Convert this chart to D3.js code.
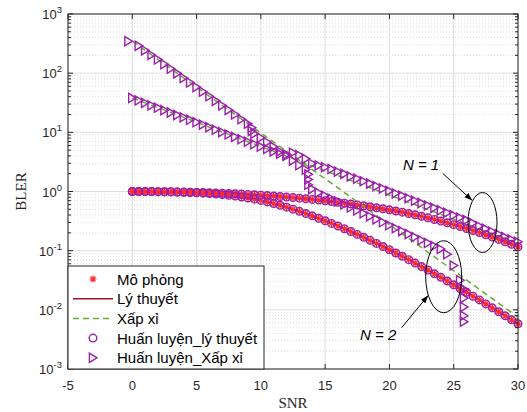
<!DOCTYPE html>
<html>
<head>
<meta charset="utf-8">
<script src="https://cdn.jsdelivr.net/npm/d3@7"></script>
<style>
  body { margin: 0; background: #fff; }
  svg { font-family: "Liberation Sans", Arial, sans-serif; }
</style>
</head>
<body>
<div id="chart"></div>
<script>
// ---- data ----
const snr = [0,0.5,1,1.5,2,2.5,3,3.5,4,4.5,5,5.5,6,6.5,7,7.5,8,8.5,9,9.5,10,10.5,11,11.5,12,12.5,13,13.5,14,14.5,
  15,15.5,16,16.5,17,17.5,18,18.5,19,19.5,20,20.5,21,21.5,22,22.5,23,23.5,24,24.5,25,25.5,26,26.5,27,27.5,28,28.5,29,29.5,30];

const theoryN1 = [1.000,0.9995,0.998,0.996,0.993,0.990,0.986,0.982,0.977,0.972,0.966,0.960,0.953,0.945,0.936,0.926,0.916,0.905,0.893,0.880,
  0.867,0.853,0.838,0.822,0.805,0.788,0.771,0.753,0.735,0.716,0.697,0.677,0.656,0.636,0.615,0.594,0.573,0.552,0.530,0.510,
  0.490,0.468,0.447,0.424,0.403,0.380,0.359,0.337,0.316,0.295,0.275,0.256,0.237,0.219,0.202,0.185,0.170,0.155,0.141,0.128,0.116];

const theoryN2 = [1.000,0.9988,0.9977,0.9954,0.9931,0.9886,0.9840,0.9772,0.9705,0.9616,0.9506,0.9376,0.9226,0.9036,0.8851,0.8610,0.8375,0.8072,0.7780,0.7430,
  0.7063,0.6668,0.6266,0.5848,0.5433,0.5023,0.4624,0.4236,0.3873,0.3524,0.3199,0.2891,0.2612,0.2350,0.2109,0.1884,0.1683,0.1496,0.1327,0.1175,
  0.1038,0.0914,0.0804,0.0705,0.0617,0.0538,0.0469,0.0407,0.0354,0.0307,0.0265,0.0229,0.0198,0.0170,0.0147,0.0126,0.0108,0.00927,0.00794,0.00679,0.00581];

const approxN1 = [38.0,34.6,31.5,28.6,26.1,23.7,21.6,19.6,17.9,16.3,14.8,13.5,12.2,11.1,10.1,9.23,8.39,7.64,6.95,6.32,
  5.75,5.24,4.76,4.34,3.94,3.59,3.27,2.97,2.70,2.46,2.24,2.04,1.85,1.69,1.53,1.40,1.27,1.16,1.05,0.957,
  0.871,0.792,0.721,0.656,0.597,0.543,0.494,0.450,0.409,0.372,0.339,0.308,0.281,0.255,0.232,0.211,0.192,0.175,0.159,0.145,0.132];

const approxN2 = [347,290,243,203,170,142,119,99.4,83.2,69.6,58.2,48.7,40.7,34.1,28.5,23.9,20.0,16.7,14.0,11.7,
  9.77,8.18,6.84,5.72,4.79,4.00,3.35,2.80,2.34,1.96,1.64,1.37,1.15,0.960,0.804,0.672,0.562,0.470,0.394,0.329,
  0.275,0.230,0.193,0.161,0.135,0.113,0.0940,0.0785,0.0656,0.0548,0.0457,0.0382,0.0319,0.0266,0.0222,0.0185,0.0155,0.0129,0.0108,0.00899,0.00750];

// trained network output (approximation model), N = 1 on the same SNR grid
const trainedN1 = [38.0,34.6,31.5,28.6,26.1,23.7,21.6,19.6,17.9,16.3,14.8,13.5,12.2,11.1,10.1,9.23,8.39,7.64,6.95,6.32,
  5.75,5.24,4.76,4.34,4.22,4.52,4.12,3.57,2.96,2.76,2.57,2.40,2.17,1.99,1.80,1.645,1.49,1.363,1.234,1.124,
  1.023,0.931,0.847,0.771,0.701,0.638,0.580,0.529,0.481,0.437,0.398,0.362,0.330,0.293,0.260,0.234,0.210,0.190,0.170,0.155,0.1415];

// trained network output, N = 2 (has its own SNR points, with vertical jumps)
const trainedN2Snr = [-0.3,0.5,1,1.5,2,2.5,3,3.5,4,4.5,5,5.5,6,6.5,7,7.5,8,8.5,9,9.3,9.3,9.5,10,10.5,11,11.5,12,12.5,13,13.5,
  13.7,13.7,13.7,14,14.5,15,15.5,16,16.5,17,17.5,18,18.5,19,19.5,20,20.5,21,21.5,22,22.5,23,23.5,24,24.5,25,25.5,
  25.8,25.8,25.8,25.8,25.8];
const trainedN2 = [347,290,243,203,170,142,119,99.4,83.2,69.6,58.2,48.7,40.7,34.1,28.5,23.9,20.0,16.7,14.0,12.0,10.5,9.5,8.13,6.81,5.69,4.76,3.99,3.33,2.79,2.33,
  1.95,1.60,1.30,1.10,0.955,0.851,0.759,0.676,0.603,0.537,0.479,0.427,0.380,0.339,0.302,0.269,0.240,0.214,0.191,0.170,0.151,0.135,0.120,0.107,0.0871,0.0562,0.0316,
  0.0224,0.0158,0.0112,0.00794,0.00631];

const xTicks = [-5, 0, 5, 10, 15, 20, 25, 30];
const yTicks = [-3, -2, -1, 0, 1, 2, 3];
const legendLabels = ["Mô phỏng", "Lý thuyết", "Xấp xỉ", "Huấn luyện_lý thuyết", "Huấn luyện_Xấp xỉ"];

// ---- layout ----
const width = 527, height = 412;
const margin = {top: 14, left: 68, bottom: 43, right: 9};
const plotWidth = width - margin.left - margin.right;
const plotHeight = height - margin.top - margin.bottom;

const colSim = "#ff2a2a", colTheory = "#a2142f", colApprox = "#5fae32", colTrain = "#9c1fa9", colAxis = "#262626";

const svg = d3.select("#chart").append("svg")
    .attr("width", width)
    .attr("height", height);

const g = svg.append("g")
    .attr("transform", "translate(" + margin.left + "," + margin.top + ")");

const xScale = d3.scaleLinear().domain([-5, 30]).range([0, plotWidth]);
const yScale = d3.scaleLog().domain([1e-3, 1e3]).range([plotHeight, 0]);

// grid
const minorVals = [];
for (let e = -3; e < 3; e++) for (let m = 2; m <= 9; m++) minorVals.push(m * Math.pow(10, e));

g.append("g").selectAll("line").data(minorVals).enter().append("line")
    .attr("x1", 0).attr("x2", plotWidth)
    .attr("y1", d => yScale(d)).attr("y2", d => yScale(d))
    .attr("stroke", "#d4d4d4").attr("stroke-width", 0.8).attr("stroke-dasharray", "1,2");

g.append("g").selectAll("line").data(yTicks).enter().append("line")
    .attr("x1", 0).attr("x2", plotWidth)
    .attr("y1", d => yScale(Math.pow(10, d))).attr("y2", d => yScale(Math.pow(10, d)))
    .attr("stroke", "#dedede").attr("stroke-width", 1);

g.append("g").selectAll("line").data(xTicks).enter().append("line")
    .attr("x1", d => xScale(d)).attr("x2", d => xScale(d))
    .attr("y1", 0).attr("y2", plotHeight)
    .attr("stroke", "#dedede").attr("stroke-width", 1);

// series
const line = (ys) => d3.line().x((d, i) => xScale(snr[i])).y(d => yScale(d))(ys);

[theoryN1, theoryN2].forEach(ys => {
    g.append("path").attr("d", line(ys))
        .attr("fill", "none").attr("stroke", colTheory).attr("stroke-width", 1.5);
});

const asterisk = "M-3.5,0L3.5,0M0,-3.5L0,3.5M-2.5,-2.5L2.5,2.5M-2.5,2.5L2.5,-2.5";
[theoryN1, theoryN2].forEach(ys => {
    g.append("g").selectAll("path").data(ys).enter().append("path")
        .attr("d", asterisk)
        .attr("transform", (d, i) => "translate(" + xScale(snr[i]) + "," + yScale(d) + ")")
        .attr("stroke", colSim).attr("stroke-width", 1.2).attr("fill", "none");
});

[approxN1, approxN2].forEach(ys => {
    g.append("path").attr("d", line(ys))
        .attr("fill", "none").attr("stroke", colApprox).attr("stroke-width", 1.5)
        .attr("stroke-dasharray", "6,4");
});

[theoryN1, theoryN2].forEach(ys => {
    g.append("g").selectAll("circle").data(ys).enter().append("circle")
        .attr("cx", (d, i) => xScale(snr[i]))
        .attr("cy", d => yScale(d))
        .attr("r", 3.8)
        .attr("fill", "none").attr("stroke", colTrain).attr("stroke-width", 1.4);
});

const triangle = "M-3.6,-4.6L4,0L-3.6,4.6Z";
const trainedSets = [
    {x: snr, y: trainedN1},
    {x: trainedN2Snr, y: trainedN2}
];
trainedSets.forEach(s => {
    g.append("g").selectAll("path").data(s.y).enter().append("path")
        .attr("d", triangle)
        .attr("transform", (d, i) => "translate(" + xScale(s.x[i]) + "," + yScale(d) + ")")
        .attr("fill", "none").attr("stroke", colTrain).attr("stroke-width", 1.4);
});

// axes box + ticks
g.append("rect").attr("width", plotWidth).attr("height", plotHeight)
    .attr("fill", "none").attr("stroke", colAxis).attr("stroke-width", 1);

const tickG = g.append("g").attr("stroke", colAxis).attr("stroke-width", 1);
xTicks.forEach(t => {
    tickG.append("line").attr("x1", xScale(t)).attr("x2", xScale(t)).attr("y1", plotHeight).attr("y2", plotHeight - 5);
    tickG.append("line").attr("x1", xScale(t)).attr("x2", xScale(t)).attr("y1", 0).attr("y2", 5);
});
yTicks.forEach(t => {
    const y = yScale(Math.pow(10, t));
    tickG.append("line").attr("x1", 0).attr("x2", 5).attr("y1", y).attr("y2", y);
    tickG.append("line").attr("x1", plotWidth).attr("x2", plotWidth - 5).attr("y1", y).attr("y2", y);
});
minorVals.forEach(v => {
    const y = yScale(v);
    tickG.append("line").attr("x1", 0).attr("x2", 3).attr("y1", y).attr("y2", y);
    tickG.append("line").attr("x1", plotWidth).attr("x2", plotWidth - 3).attr("y1", y).attr("y2", y);
});

// tick labels
g.append("g").selectAll("text").data(xTicks).enter().append("text")
    .attr("x", d => xScale(d)).attr("y", plotHeight + 21)
    .attr("text-anchor", "middle").attr("font-size", 13).attr("fill", colAxis)
    .text(d => d);

const yLab = g.append("g").selectAll("text").data(yTicks).enter().append("text")
    .attr("x", -6).attr("y", d => yScale(Math.pow(10, d)) + 5)
    .attr("text-anchor", "end").attr("font-size", 13).attr("fill", colAxis);
yLab.append("tspan").text("10");
yLab.append("tspan").attr("dy", -6).attr("font-size", 9.5).text(d => d);

svg.append("text").attr("x", margin.left + plotWidth / 2).attr("y", 408)
    .attr("text-anchor", "middle").attr("font-family", "Liberation Serif, serif")
    .attr("font-size", 15).attr("fill", colAxis).text("SNR");
svg.append("text").attr("transform", "translate(26," + (margin.top + plotHeight / 2) + ") rotate(-90)")
    .attr("text-anchor", "middle").attr("font-family", "Liberation Serif, serif")
    .attr("font-size", 15).attr("fill", colAxis).text("BLER");

// annotations (placed in data coordinates)
const annG = g.append("g");
const ellipses = [{s: 27.24, v: 0.299, rx: 14.5, ry: 30}, {s: 24.22, v: 0.0363, rx: 18, ry: 36}];
ellipses.forEach(e => {
    annG.append("ellipse").attr("cx", xScale(e.s)).attr("cy", yScale(e.v)).attr("rx", e.rx).attr("ry", e.ry)
        .attr("fill", "none").attr("stroke", "#000").attr("stroke-width", 1);
});

svg.append("defs").append("marker").attr("id", "arr")
    .attr("viewBox", "0 0 10 10").attr("refX", 9).attr("refY", 5)
    .attr("markerWidth", 8).attr("markerHeight", 8).attr("orient", "auto")
    .append("path").attr("d", "M0,1.5L10,5L0,8.5Z").attr("fill", "#000");

const arrows = [{s1: 24.14, v1: 2.03, s2: 26.4, v2: 0.718}, {s1: 20.95, v1: 0.00499, s2: 22.98, v2: 0.01714}];
arrows.forEach(a => {
    annG.append("line").attr("x1", xScale(a.s1)).attr("y1", yScale(a.v1)).attr("x2", xScale(a.s2)).attr("y2", yScale(a.v2))
        .attr("stroke", "#000").attr("stroke-width", 1).attr("marker-end", "url(#arr)");
});

const nLab = [{t: "1", s: 21.05, v: 2.31}, {t: "2", s: 17.71, v: 0.0031}];
nLab.forEach(d => {
    annG.append("text").attr("x", xScale(d.s)).attr("y", yScale(d.v))
        .attr("font-size", 15).attr("font-style", "italic").attr("fill", "#000")
        .text("N = " + d.t);
});

// legend
const legG = g.append("g").attr("transform", "translate(0," + (plotHeight - 103) + ")");
legG.append("rect").attr("width", 196).attr("height", 103)
    .attr("fill", "#fff").attr("stroke", colAxis).attr("stroke-width", 1);
legendLabels.forEach((lab, i) => {
    const y = 13 + i * 19.7;
    const row = legG.append("g").attr("transform", "translate(0," + y + ")");
    if (i === 0) row.append("path").attr("d", asterisk).attr("transform", "translate(25,0)")
        .attr("stroke", colSim).attr("stroke-width", 1.2);
    if (i === 1) row.append("line").attr("x1", 5).attr("x2", 45).attr("stroke", colTheory).attr("stroke-width", 1.5);
    if (i === 2) row.append("line").attr("x1", 5).attr("x2", 45).attr("stroke", colApprox).attr("stroke-width", 1.5).attr("stroke-dasharray", "6,4");
    if (i === 3) row.append("circle").attr("cx", 25).attr("r", 3.8).attr("fill", "none").attr("stroke", colTrain).attr("stroke-width", 1.4);
    if (i === 4) row.append("path").attr("d", triangle).attr("transform", "translate(25,0)").attr("fill", "none").attr("stroke", colTrain).attr("stroke-width", 1.4);
    row.append("text").attr("x", 49).attr("y", 5.5).attr("font-size", 15).attr("fill", "#000").text(lab);
});
</script>
</body>
</html>
